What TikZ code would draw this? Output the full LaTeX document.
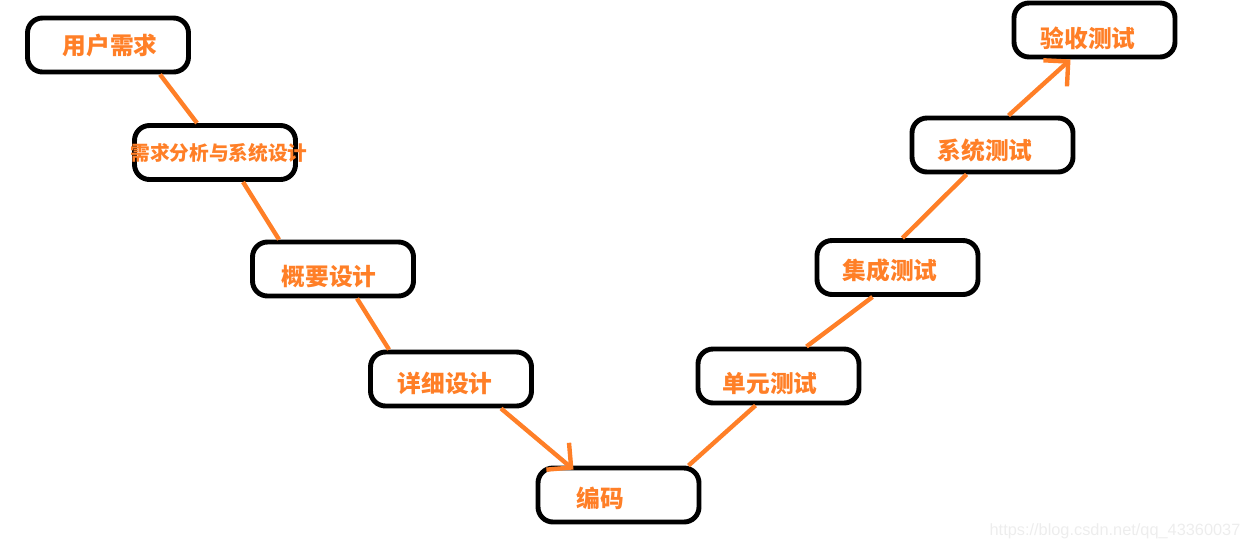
\documentclass[tikz,border=0pt]{standalone}
\usepackage{fontspec}
\newfontfamily\cjk{Noto Sans CJK SC}
\newfontfamily\wmfont{Liberation Sans}
\usetikzlibrary{arrows.meta}
\definecolor{paintorange}{RGB}{255,127,39}
\tikzset{
  stage/.style={draw, line width=2.8pt, rounded corners=0.3cm,
    minimum width=3.22cm, minimum height=1.08cm},
  stagetext/.style={text=paintorange, font=\cjk\bfseries\fontsize{13.5}{16}\selectfont},
  link/.style={draw=paintorange, line width=2.5pt},
  arr/.style={link, -{Straight Barb[length=10pt,width=20pt,line width=2.5pt]}}
}
\begin{document}
\begin{tikzpicture}
  \useasboundingbox (0,0) rectangle (24.92,-11.02);
  % left branch
  \node[stage] (req) at (2.16,-0.90) {};
  \node[stagetext] at (2.20,-0.92) {用户需求};
  \node[stage] (ana) at (4.30,-3.05) {};
  \node[stagetext, font=\cjk\bfseries\fontsize{11.2}{14}\selectfont] at (4.38,-3.05) {需求分析与系统设计};
  \node[stage] (hld) at (6.66,-5.38) {};
  \node[stagetext] at (6.58,-5.54) {概要设计};
  \node[stage] (lld) at (9.02,-7.58) {};
  \node[stagetext] at (8.90,-7.66) {详细设计};
  % bottom
  \node[stage] (code) at (12.37,-9.90) {};
  \node[stagetext] at (12.00,-9.96) {编码};
  % right branch
  \node[stage] (unit) at (15.57,-7.52) {};
  \node[stagetext] at (15.40,-7.68) {单元测试};
  \node[stage] (integ) at (17.95,-5.35) {};
  \node[stagetext] at (17.80,-5.40) {集成测试};
  \node[stage] (sys) at (19.85,-2.90) {};
  \node[stagetext] at (19.70,-3.00) {系统测试};
  \node[stage] (acc) at (21.89,-0.60) {};
  \node[stagetext] at (21.76,-0.76) {验收测试};
  % connectors
  \draw[link] ([xshift=1.04cm]req.south) -- ([xshift=-0.36cm]ana.north);
  \draw[link] ([xshift=0.56cm]ana.south) -- ([xshift=-1.08cm]hld.north);
  \draw[link] ([xshift=0.48cm]hld.south) -- ([xshift=-1.24cm]lld.north);
  \draw[arr] ([xshift=1.00cm]lld.south) -- ([xshift=-0.90cm,yshift=-0.08cm]code.north);
  \draw[link] ([xshift=1.40cm]code.north) -- ([xshift=-0.46cm]unit.south);
  \draw[link] ([xshift=0.56cm]unit.north) -- ([xshift=-0.50cm]integ.south);
  \draw[link] ([xshift=0.10cm]integ.north) -- ([xshift=-0.52cm]sys.south);
  \draw[arr] ([xshift=0.32cm]sys.north) -- ([xshift=-0.48cm]acc.south);
  % watermark
  \node[text=black!7, font=\wmfont\fontsize{9.3}{11}\selectfont] (mark) at (22.30,-10.62) {https://blog.csdn.net/qq\_43360037};
\end{tikzpicture}
\end{document}
